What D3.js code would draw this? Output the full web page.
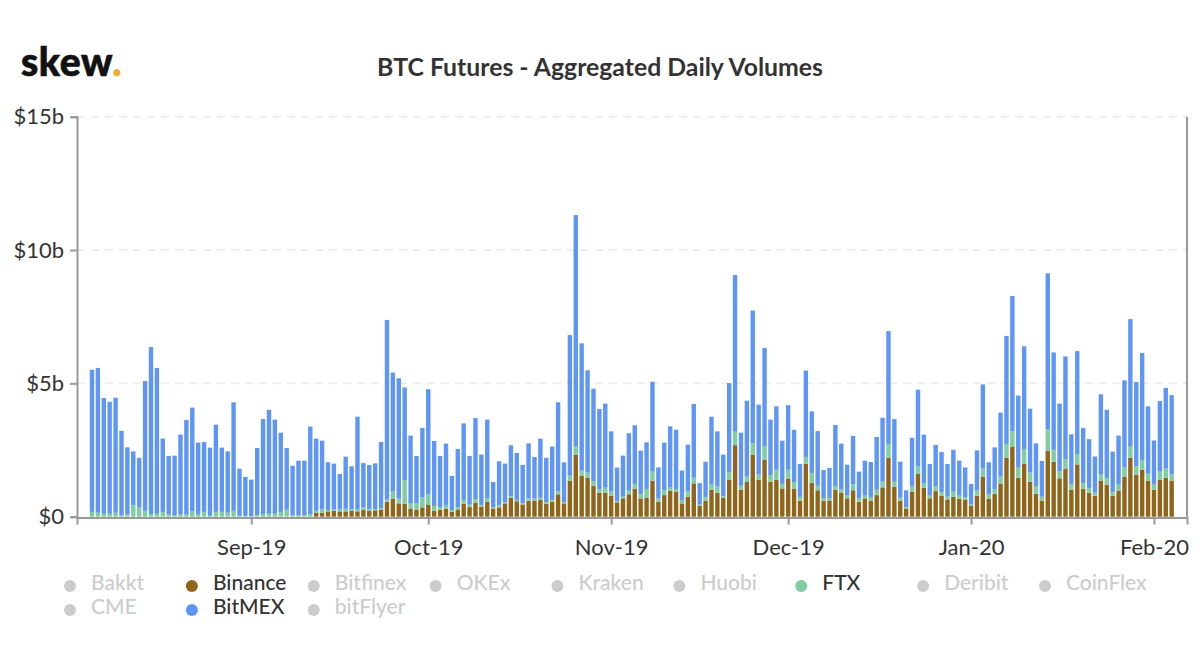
<!DOCTYPE html>
<html>
<head>
<meta charset="utf-8">
<script src="https://cdn.jsdelivr.net/npm/d3@7"></script>
<style>
  html, body { margin: 0; padding: 0; background: #fff; }
  text { font-family: Lato, "Open Sans", sans-serif; }
</style>
</head>
<body>
<div id="chart-container"></div>
<script>
// values in $b, one entry per day, first bar is 5 Aug 2019
const firstDay = new Date(2019, 7, 5);

const binance = [
  0,0,0,0,0,0,0,0,0,0,0,0,0,0,0,0,0,0,0,0,
  0,0,0,0,0,0,0,0,0,0,0,0,0,0,0,0,0,0,.15,.15,
  .2,.22,.2,.2,.22,.2,.26,.22,.24,.27,.56,.68,.5,.49,.29,.27,.35,.44,.22,.26,
  .3,.19,.27,.49,.36,.53,.38,.56,.31,.35,.5,.71,.58,.46,.6,.61,.64,.49,.56,.84,
  .5,1.35,2.33,1.54,1.46,1.16,.9,.9,.79,.54,.69,.84,1.05,.68,.71,1.35,.56,.81,.98,.94,
  .5,.75,1.25,.41,.6,1.01,.9,.7,1.39,2.68,1.01,1.3,2.33,1.39,2.14,1.31,1.39,1.06,1.43,1.05,
  .6,1.99,1.28,.99,.6,.61,1.01,.9,.69,.99,.56,.69,.6,.81,1.1,2.21,1.13,.6,.31,.94,
  1.6,1.08,.69,.96,.79,.65,.75,.68,.64,.4,.79,1.5,.68,.86,1.25,2.21,2.63,1.46,1.99,1.31,
  .86,.6,2.48,2.06,1.44,1.8,1.01,1.96,1.05,.9,.79,1.35,1.2,.79,.98,1.5,2.21,1.58,1.76,1.35,
  1.01,1.38,1.46,1.35
];
const ftx = [
  .18,.15,.11,.11,.15,.04,.08,.44,.34,.22,.1,.11,.18,.1,.04,.1,.08,.21,.1,.18,
  .03,.18,.18,.15,.22,.03,.03,.01,.06,.1,.11,.11,.18,.26,.05,.06,.06,.09,.07,.14,
  .05,.05,.09,.1,.07,.09,.1,.07,.05,.04,.08,.26,.18,.89,.2,.24,.37,.4,.18,.1,
  .14,.06,.09,.14,.09,.13,.06,.14,.05,.08,.04,.07,.05,.04,.08,.07,.07,.06,.07,.12,
  .05,.19,.32,.19,.19,.18,.14,.19,.15,.05,.06,.14,.18,.17,.33,.34,.12,.18,.11,.1,
  .1,.21,.21,.04,.14,.19,.23,.06,.29,.51,.15,.2,.43,.19,.51,.25,.37,.17,.33,.25,
  .14,.25,.36,.17,.1,.09,.14,.14,.1,.22,.14,.1,.14,.2,.21,.52,.18,.11,.05,.19,
  .3,.16,.1,.17,.14,.1,.19,.11,.09,.05,.19,.31,.15,.18,.25,.52,.58,.38,.55,.34,
  .29,.15,.8,.45,.27,.36,.22,.39,.21,.18,.11,.25,.25,.14,.22,.36,.44,.32,.37,.26,
  .19,.31,.34,.25
];
const bitmex = [
  5.33,5.43,4.34,4.2,4.31,3.18,2.52,2.01,1.87,4.87,6.26,5.47,2.75,2.18,2.25,2.98,3.55,3.88,2.68,2.62,
  2.56,3.27,2.41,2.3,4.07,1.77,1.46,1.38,2.52,3.56,3.9,3.53,2.97,2.32,1.86,2.04,2.04,3.29,2.71,2.56,
  1.79,1.72,1.31,1.95,1.6,3.46,1.65,1.65,1.71,2.49,6.74,4.46,4.51,3.47,2.55,1.77,2.61,3.94,2.44,1.92,
  2.3,1.28,2.18,2.87,1.83,3.04,1.89,2.94,.94,1.65,1.45,1.9,1.76,1.44,2.07,1.56,2.22,1.66,2,3.33,
  1.49,5.27,8.66,4.77,3.84,3.46,3,3.15,2.26,1.25,1.54,2.15,2.2,1.63,1.75,3.37,1.17,1.79,2.3,2.22,
  1.13,1.74,2.77,.81,1.32,2.55,2.07,1.57,3.33,5.87,1.99,2.85,4.97,2.62,3.68,2.08,2.38,1.62,2.42,1.96,
  1.24,3.24,2.31,2.05,1.05,1.13,2.29,1.7,1.16,1.82,.99,1.31,1.31,1.98,2.4,4.23,2.35,1.35,.63,1.83,
  2.86,1.84,1.19,1.56,1.5,1.23,1.57,1.31,1.12,.78,1.51,3.15,1.21,1.56,2.4,4.05,5.07,2.7,3.85,2.4,
  1.6,1.34,5.85,3.65,2.53,3.85,1.86,3.86,2.07,1.83,1.36,2.99,2.56,1.51,1.84,3.25,4.76,3.15,4.01,2.53,
  1.66,2.65,3.03,2.96
];

const yTicks = [0, 5, 10, 15];
const monthTicks = [
  new Date(2019, 8, 1), new Date(2019, 9, 1), new Date(2019, 10, 1),
  new Date(2019, 11, 1), new Date(2020, 0, 1), new Date(2020, 1, 1)
];
const legendRow1 = ["Bakkt", "Binance", "Bitfinex", "OKEx", "Kraken", "Huobi", "FTX", "Deribit", "CoinFlex"];
const legendRow2 = ["CME", "BitMEX", "bitFlyer"];

const chartTitle = "BTC Futures - Aggregated Daily Volumes";

// colors of the exchanges that are switched on, the rest are greyed out
const colorLookup = { Binance: "#8f641b", FTX: "#7fcda1", BitMEX: "#5f96f6" };
const offColor = "#cccccc";

const width = 1200;
const height = 670;
const margin = { top: 117, right: 13, bottom: 153, left: 78 };
const dayMs = 24 * 60 * 60 * 1000;

const svg = d3.select("#chart-container")
  .append("svg")
  .attr("width", width)
  .attr("height", height)
  .style("display", "block");

// logo
const logo = svg.append("text")
  .attr("x", 21)
  .attr("y", 76)
  .style("font-size", "39px")
  .style("font-weight", 900)
  .style("letter-spacing", "0.6px")
  .style("fill", "#111")
  .style("stroke", "#111")
  .style("stroke-width", 0.7);
logo.append("tspan").text("skew");
logo.append("tspan").style("fill", "#eeab31").style("stroke", "#eeab31").text(".");

svg.append("text")
  .attr("x", 600)
  .attr("y", 76)
  .style("text-anchor", "middle")
  .style("font-size", "24.8px")
  .style("font-weight", 700)
  .style("fill", "#333")
  .text(chartTitle);

// scales, the time axis keeps 2.5 days free on the left and right
const x = d3.scaleTime()
  .domain([new Date(+firstDay - 2.54 * dayMs), new Date(+firstDay + 185.6 * dayMs)])
  .range([margin.left - 1, width - margin.right]);
const y = d3.scaleLinear()
  .domain([0, 15])
  .range([height - margin.bottom - 0.3, margin.top - 0.3]);

// gridlines
svg.append("g")
  .selectAll("line")
  .data(yTicks.filter(d => d > 0))
  .join("line")
  .attr("x1", x.range()[0])
  .attr("x2", x.range()[1])
  .attr("y1", d => y(d))
  .attr("y2", d => y(d))
  .style("stroke", "#eeeeee")
  .style("stroke-width", 2)
  .style("stroke-dasharray", "8 6");

// stacked bars, bottom to top: Binance, FTX, BitMEX
const days = binance.map((d, i) => ({
  date: new Date(firstDay.getFullYear(), firstDay.getMonth(), firstDay.getDate() + i),
  Binance: d,
  FTX: ftx[i],
  BitMEX: bitmex[i]
}));
const stacked = d3.stack().keys(["Binance", "FTX", "BitMEX"])(days);
const barWidth = 4.4;

svg.append("g")
  .selectAll("g")
  .data(stacked)
  .join("g")
  .style("fill", d => colorLookup[d.key])
  .selectAll("rect")
  .data(d => d)
  .join("rect")
  .attr("x", d => x(d.data.date) - barWidth / 2)
  .attr("width", barWidth)
  .attr("y", d => y(d[1]))
  .attr("height", d => y(d[0]) - y(d[1]));

// axes
const xAxis = svg.append("g")
  .attr("transform", `translate(0,${y(0) + 0.8})`)
  .call(d3.axisBottom(x).tickValues(monthTicks).tickFormat(d3.timeFormat("%b-%y")).tickSize(7).tickPadding(15));
const yAxis = svg.append("g")
  .attr("transform", `translate(${x.range()[0]},0)`)
  .call(d3.axisLeft(y).tickValues(yTicks).tickFormat(d => d === 0 ? "$0" : `$${d}b`).tickSize(7).tickPadding(6));

[xAxis, yAxis].forEach(axis => {
  axis.select(".domain").style("stroke", "#999").style("stroke-width", 2);
  axis.selectAll(".tick line").style("stroke", "#999").style("stroke-width", 2);
  axis.selectAll(".tick text")
    .style("font-family", "Lato, sans-serif")
    .style("font-size", "22px")
    .style("fill", "#333");
});

// right hand border of the plot
svg.append("line")
  .attr("x1", x.range()[1])
  .attr("x2", x.range()[1])
  .attr("y1", y(15))
  .attr("y2", y(0))
  .style("stroke", "#999")
  .style("stroke-width", 2);

// legend
const legendX = d3.scalePoint()
  .domain(d3.range(legendRow1.length))
  .range([70, 1045]);

function drawLegendRow(names, rowY) {
  const item = svg.append("g")
    .selectAll("g")
    .data(names)
    .join("g")
    .attr("transform", (d, i) => `translate(${legendX(i)},${rowY})`);

  item.append("circle")
    .attr("r", 6)
    .attr("cy", 3)
    .style("fill", d => colorLookup[d] || offColor);

  item.append("text")
    .attr("x", 21)
    .attr("y", 7)
    .style("font-size", "21px")
    .style("font-weight", 500)
    .style("fill", d => colorLookup[d] ? "#333" : offColor)
    .text(d => d);
}

drawLegendRow(legendRow1, 583);
drawLegendRow(legendRow2, 607);
</script>
</body>
</html>
